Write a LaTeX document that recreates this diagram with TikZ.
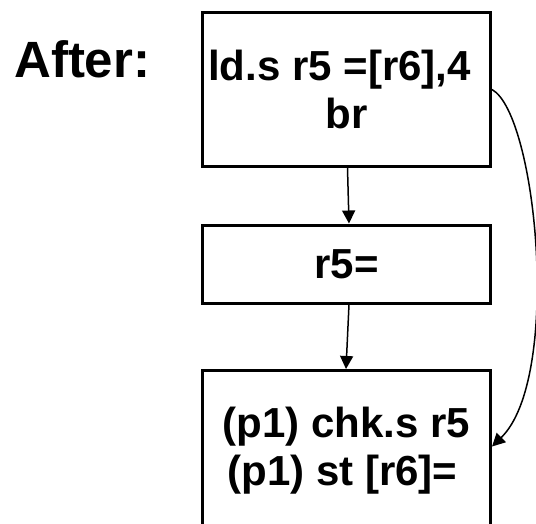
\documentclass[tikz,border=0pt]{standalone}
\usepackage{fontspec}
\setmainfont{Liberation Sans}
\usetikzlibrary{arrows.meta}

\begin{document}
\begin{tikzpicture}[x=1pt, y=1pt]
	\tikzset{
		block/.style={rectangle, draw=black, line width=3pt, minimum width=288pt, inner sep=0pt, align=center, font=\bfseries\fontsize{42}{48}\selectfont},
		flow/.style={draw=black, line width=1.5pt, -{Triangle[length=13pt, width=13pt]}}
	}
	\useasboundingbox (0,0) rectangle (536,-523);
	
	% Label
	\node[anchor=base west, inner sep=0pt, font=\bfseries\fontsize{51}{56}\selectfont] (after) at (14,-77) {After:};
	
	% Blocks
	\node[block, minimum height=154pt] (b1) at (346.5,-89.5) {ld.s r5 =[r6],4\hspace*{14pt}\\br};
	\node[block, minimum height=78pt] (b2) at (346.5,-264) {r5=};
	\node[block, minimum height=160pt] (b3) at (346.5,-450.5) {(p1) chk.s r5\\(p1) st [r6]=\hspace*{8pt}};
	
	% Edges
	\draw[flow] ([xshift=1pt]b1.south) -- ([xshift=2.5pt]b2.north);
	\draw[flow] ([xshift=2.5pt]b2.south) -- ([xshift=-0.5pt]b3.north);
	\draw[flow] (b1.east) .. controls +(45,-25) and +(70,68) .. ([yshift=4pt]b3.east);
\end{tikzpicture}
\end{document}
